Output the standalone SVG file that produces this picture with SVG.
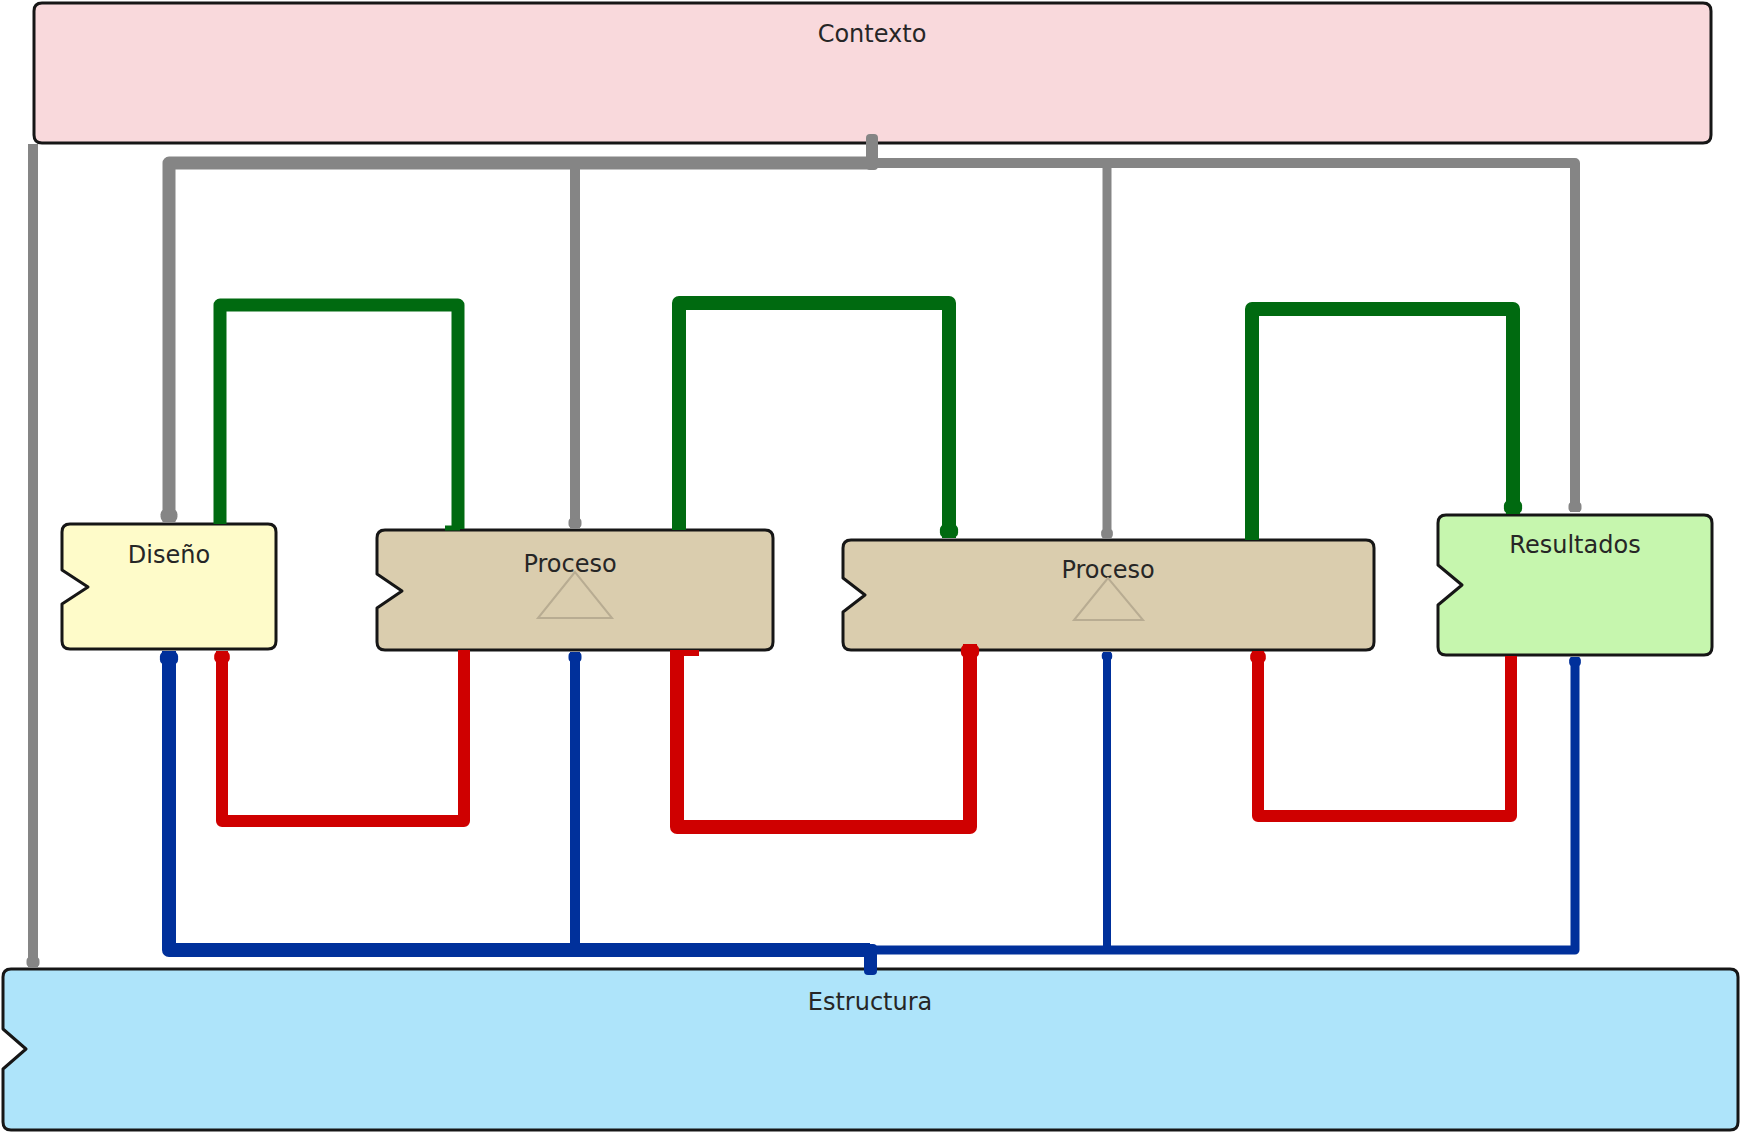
<svg xmlns="http://www.w3.org/2000/svg" width="1740" height="1132" viewBox="0 0 1740 1132">
  <style>
    .node { stroke: #161616; stroke-width: 3; stroke-linejoin: round; }
    .label { font-family: "DejaVu Sans", Verdana, sans-serif; font-size: 24px; fill: #262626; text-anchor: middle; }
    .tri { fill: none; stroke: #b8ac92; stroke-width: 2; }
    .wire { fill: none; stroke-linejoin: round; stroke-linecap: butt; }
    .gray { stroke: #858585; }
    .green { stroke: #006a10; }
    .red { stroke: #cf0000; }
    .blue { stroke: #00309b; }
  </style>
  <defs>
    <marker id="endGray" viewBox="-10 -7 10 14" refX="0" refY="0" markerWidth="1" markerHeight="1.4" markerUnits="strokeWidth" orient="auto">
      <rect x="-10" y="-6.5" width="10" height="13" rx="4" fill="#858585"/>
    </marker>
    <marker id="endGreen" viewBox="-10 -7 10 14" refX="0" refY="0" markerWidth="1" markerHeight="1.4" markerUnits="strokeWidth" orient="auto">
      <rect x="-10" y="-6.5" width="10" height="13" rx="4" fill="#006a10"/>
    </marker>
    <marker id="endRed" viewBox="-10 -7 10 14" refX="0" refY="0" markerWidth="1" markerHeight="1.4" markerUnits="strokeWidth" orient="auto">
      <rect x="-10" y="-6.5" width="10" height="13" rx="4" fill="#cf0000"/>
    </marker>
    <marker id="endBlue" viewBox="-10 -7 10 14" refX="0" refY="0" markerWidth="1" markerHeight="1.4" markerUnits="strokeWidth" orient="auto">
      <rect x="-10" y="-6.5" width="10" height="13" rx="4" fill="#00309b"/>
    </marker>
  </defs>

  <rect width="1740" height="1132" fill="#ffffff"/>

  <!-- Nodes -->
  <g id="contexto">
    <path class="node" fill="#f9d9dc" d="M42,3 H1703 Q1711,3 1711,11 V135 Q1711,143 1703,143 H42 Q34,143 34,135 V11 Q34,3 42,3 Z"/>
    <text class="label" x="872" y="42">Contexto</text>
  </g>

  <g id="estructura">
    <path class="node" fill="#aee4fa" d="M11,969 H1730 Q1738,969 1738,977 V1122 Q1738,1130 1730,1130 H11 Q3,1130 3,1122 V1069 L26,1049 L3,1029 V977 Q3,969 11,969 Z"/>
    <text class="label" x="870" y="1010">Estructura</text>
  </g>

  <g id="diseno">
    <path class="node" fill="#fefbc9" d="M70,524 H268 Q276,524 276,532 V641 Q276,649 268,649 H70 Q62,649 62,641 V604 L88,587 L62,570 V532 Q62,524 70,524 Z"/>
    <text class="label" x="169" y="563">Diseño</text>
  </g>

  <g id="proceso-1">
    <path class="node" fill="#dacdae" d="M385,530 H765 Q773,530 773,538 V642 Q773,650 765,650 H385 Q377,650 377,642 V608 L402,591 L377,574 V538 Q377,530 385,530 Z"/>
    <text class="label" x="570" y="572">Proceso</text>
    <path class="tri" d="M575,572 L538,618 H612 Z"/>
  </g>

  <g id="proceso-2">
    <path class="node" fill="#dacdae" d="M851,540 H1366 Q1374,540 1374,548 V642 Q1374,650 1366,650 H851 Q843,650 843,642 V612 L865,595 L843,578 V548 Q843,540 851,540 Z"/>
    <text class="label" x="1108" y="578">Proceso</text>
    <path class="tri" d="M1108,578 L1074,620 H1143 Z"/>
  </g>

  <g id="resultados">
    <path class="node" fill="#c6f6ae" d="M1446,515 H1704 Q1712,515 1712,523 V647 Q1712,655 1704,655 H1446 Q1438,655 1438,647 V605 L1462,585 L1438,565 V523 Q1438,515 1446,515 Z"/>
    <text class="label" x="1575" y="553">Resultados</text>
  </g>

  <!-- Connectors -->
  <g id="connectors">
    <!-- context links -->
    <path class="wire gray" stroke-width="10" d="M33,144 V967" marker-end="url(#endGray)"/>
    <path class="wire gray" stroke-width="13" d="M872,163 H169 V522" marker-end="url(#endGray)"/>
    <path class="wire gray" stroke-width="10" d="M872,163 H1575 V512" marker-end="url(#endGray)"/>
    <path class="wire gray" stroke-width="10" d="M575,163 V528" marker-end="url(#endGray)"/>
    <path class="wire gray" stroke-width="9" d="M1107,163 V538" marker-end="url(#endGray)"/>
    <rect x="866" y="134" width="12" height="36" rx="4" fill="#858585"/>

    <!-- structure links -->
    <path class="wire blue" stroke-width="14" d="M870,950 H169 V651" marker-end="url(#endBlue)"/>
    <path class="wire blue" stroke-width="9" d="M870,950 H1575 V657" marker-end="url(#endBlue)"/>
    <path class="wire blue" stroke-width="10" d="M575,950 V652" marker-end="url(#endBlue)"/>
    <path class="wire blue" stroke-width="8" d="M1107,950 V652" marker-end="url(#endBlue)"/>
    <rect x="864" y="944" width="13" height="31" rx="4" fill="#00309b"/>

    <!-- feedback loops -->
    <path class="wire red" stroke-width="12" d="M464,650 V821 H222 V651" marker-end="url(#endRed)"/>
    <path class="wire red" stroke-width="14" d="M677,650 V827 H970 V644" marker-end="url(#endRed)"/>
    <path class="wire red" stroke-width="6" d="M677,653 H699"/>
    <path class="wire red" stroke-width="12" d="M1511,656 V816 H1258 V651" marker-end="url(#endRed)"/>

    <!-- forward loops -->
    <path class="wire green" stroke-width="13" d="M220,524 V305 H458 V529"/>
    <path class="wire green" stroke-width="5" d="M460,528 H445"/>
    <path class="wire green" stroke-width="14" d="M679,530 V303 H949 V538" marker-end="url(#endGreen)"/>
    <path class="wire green" stroke-width="14" d="M1252,540 V309 H1513 V514" marker-end="url(#endGreen)"/>
  </g>
</svg>
